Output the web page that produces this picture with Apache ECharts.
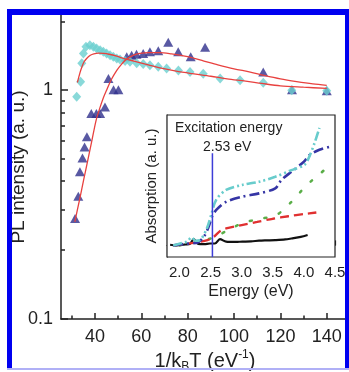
<!DOCTYPE html>
<html><head><meta charset="utf-8">
<script src="https://cdn.jsdelivr.net/npm/echarts@6/dist/echarts.min.js"></script>
<style>html,body{margin:0;padding:0;background:#fff}#c{width:349px;height:372px}</style>
</head><body><div id="c"></div>
<script>
// ---- main plot data ----
const cyanX = [32.1,33.8,34.3,35.0,36.1,37.8,39.3,40.7,42.2,43.6,45.0,46.5,47.9,49.4,50.8,53.0,55.1,58.0,60.8,63.7,67.3,70.9,76.0,81.0,86.7,94.0,102.6,112.6,124.9,140.0];
const cyanY = [0.935,1.087,1.31,1.447,1.546,1.57,1.546,1.52,1.495,1.47,1.447,1.42,1.398,1.375,1.36,1.34,1.33,1.31,1.3,1.285,1.264,1.244,1.22,1.2,1.18,1.125,1.105,1.076,1.0,0.993];
const navyX = [31.4,32.8,33.5,34.6,35.5,36.5,38.4,40.6,42.2,44.3,45.8,48.0,50.1,53.7,55.8,57.9,60.8,63.7,67.3,71.6,75.9,81.3,87.5,112.6,125.0,140.0];
const navyY = [0.275,0.344,0.44,0.505,0.565,0.625,0.79,0.79,0.79,0.845,1.125,1.005,1.005,1.4,1.42,1.435,1.447,1.47,1.485,1.62,1.47,1.4,1.54,1.2,1.005,0.995];
const fitAX = [32.4,33.5,34.3,35.3,36.4,38.0,39.5,41.5,43.6,46.0,49.4,53.0,58.0,63.0,68.0,75.0,82.0,90.0,97.0,105.0,112.0,120.0,130.0,140.0];
const fitAY = [1.08,1.19,1.26,1.33,1.375,1.42,1.44,1.45,1.447,1.435,1.407,1.37,1.33,1.29,1.25,1.21,1.18,1.15,1.12,1.095,1.07,1.045,1.03,1.017];
const fitBX = [31.3,33.3,35.1,36.9,38.7,40.5,42.0,43.5,45.0,47.0,49.4,51.5,53.7,56.5,59.4,63.0,68.0,73.0,80.0,87.0,93.0,100.0,107.0,113.0,120.0,127.0,134.0,140.0];
const fitBY = [0.266,0.331,0.405,0.495,0.605,0.74,0.83,0.92,1.0,1.11,1.22,1.3,1.37,1.42,1.447,1.46,1.46,1.44,1.4,1.34,1.29,1.24,1.2,1.16,1.12,1.09,1.065,1.05];
const xMajor = [40,60,80,100,120,140];
const xMinor = [30,50,70,90,110,130,150];
const yMajor = [0.1,1];
const yMinor = [0.2,0.3,0.4,0.5,0.6,0.7,0.8,0.9,2];

// ---- inset data ----
const blackE = [1.85,1.94,2.1,2.17,2.23,2.3,2.4,2.49,2.57,2.65,2.75,2.9,3.01,3.15,3.28,3.4,3.54,3.7,3.8,3.95,4.06];
const blackA = [0.02,0.0,0.03,0.05,0.2,0.05,0.04,0.06,0.06,0.2,0.12,0.11,0.12,0.13,0.15,0.16,0.17,0.19,0.22,0.27,0.33];
const redE = [1.9,2.1,2.3,2.45,2.55,2.65,2.75,3.0,3.25,3.5,3.75,4.0,4.2];
const redA = [0.0,0.05,0.1,0.17,0.27,0.45,0.54,0.65,0.75,0.85,0.93,1.0,1.05];
const greenE = [2.0,2.5,3.0,3.3,3.56,3.8,3.96,4.14,4.27,4.35];
const greenA = [0.0,0.22,0.7,0.85,0.97,1.39,1.74,2.09,2.3,2.45];
const navyE = [1.9,2.1,2.3,2.4,2.47,2.53,2.6,2.75,3.0,3.28,3.54,3.64,3.8,4.0,4.09,4.25,4.42];
const navyA = [0.0,0.05,0.1,0.3,0.6,0.95,1.15,1.39,1.55,1.66,1.82,2.09,2.35,2.67,2.88,3.05,3.15];
const cyanE = [1.9,2.05,2.12,2.2,2.25,2.33,2.44,2.51,2.59,2.75,3.01,3.28,3.54,3.8,4.01,4.08,4.17,4.25];
const cyanA = [0.0,0.08,0.12,0.26,0.15,0.17,0.54,0.97,1.45,1.77,1.93,2.03,2.19,2.4,2.57,2.8,3.26,3.75];
const excitationE = 2.53;
const excitationTop = 2.94;
const eMajor = [2.0,2.5,3.0,3.5,4.0,4.5];
const eMinor = [2.25,2.75,3.25,3.75,4.25];
const absTicks = [0,1,2,3,4];

const zip = (a,b) => a.map((v,i)=>[v,b[i]]);
const FF = 'Liberation Sans, Arial, sans-serif';
const TC = '#222';
const AXMIN = 25.33, AXMAX = 149.6, AYMIN = 0.1, AYMAX = 2.13;
const IXMIN = 1.8, IXMAX = 4.5, IYMIN = -0.37, IYMAX = 4.16;

const chart = echarts.init(document.getElementById('c'), null, {renderer:'canvas'});
chart.setOption({
  animation:false,
  backgroundColor:'#fff',
  textStyle:{fontFamily:FF},
  grid:[
    {left:61, top:15, right:0, bottom:53, outerBoundsMode:'none', containLabel:false},
    {left:167, top:115, width:168, height:142, outerBoundsMode:'none', containLabel:false,
     show:true, backgroundColor:'#fff', borderColor:TC, borderWidth:1.2, z:3}
  ],
  xAxis:[
    {type:'value', gridIndex:0, min:AXMIN, max:AXMAX,
     axisLine:{show:true, lineStyle:{color:TC, width:1.5}},
     axisTick:{show:true, inside:true, length:6, customValues:xMajor, lineStyle:{color:TC, width:1.5}},
     axisLabel:{customValues:xMajor, fontSize:18, margin:9, color:TC, fontFamily:FF},
     splitLine:{show:false},
     name:'1/k{sub|B}T (eV{sup|-1})', nameLocation:'middle', nameGap:30, nameMoveOverlap:false,
     nameTextStyle:{fontSize:20, color:TC, fontFamily:FF, lineHeight:24,
       rich:{sub:{fontSize:12, verticalAlign:'bottom', lineHeight:18, color:TC, fontFamily:FF},
             sup:{fontSize:12, verticalAlign:'top', lineHeight:14, color:TC, fontFamily:FF}}}},
    {type:'value', gridIndex:0, min:AXMIN, max:AXMAX, position:'bottom',
     axisLine:{show:false},
     axisTick:{show:true, inside:true, length:3.5, customValues:xMinor, lineStyle:{color:TC, width:1.5}},
     axisLabel:{show:false}, splitLine:{show:false}},
    {type:'value', gridIndex:1, min:IXMIN, max:IXMAX,
     axisLine:{show:true, lineStyle:{color:TC, width:1.2}},
     axisTick:{show:true, inside:true, length:5, customValues:eMajor, lineStyle:{color:TC, width:1.2}},
     axisLabel:{customValues:eMajor, fontSize:15, margin:8, color:TC, fontFamily:FF, formatter:v=>v.toFixed(1)},
     splitLine:{show:false},
     name:'Energy (eV)', nameLocation:'middle', nameGap:27, nameMoveOverlap:false,
     nameTextStyle:{fontSize:16, color:TC, fontFamily:FF}},
    {type:'value', gridIndex:1, min:IXMIN, max:IXMAX, position:'bottom',
     axisLine:{show:false},
     axisTick:{show:true, inside:true, length:3, customValues:eMinor, lineStyle:{color:TC, width:1.2}},
     axisLabel:{show:false}, splitLine:{show:false}}
  ],
  yAxis:[
    {type:'log', logBase:10, gridIndex:0, min:AYMIN, max:AYMAX,
     axisLine:{show:true, lineStyle:{color:TC, width:1.5}},
     axisTick:{show:true, inside:true, length:7, customValues:yMajor, lineStyle:{color:TC, width:1.5}},
     axisLabel:{customValues:yMajor, fontSize:18, margin:8, color:TC, fontFamily:FF, formatter:v=>String(v)},
     splitLine:{show:false}, minorTick:{show:false},
     name:'PL intensity (a. u.)', nameLocation:'middle', nameGap:33, nameRotate:90, nameMoveOverlap:false,
     nameTextStyle:{fontSize:19, color:TC, fontFamily:FF}},
    {type:'log', logBase:10, gridIndex:0, min:AYMIN, max:AYMAX, position:'left',
     axisLine:{show:false},
     axisTick:{show:true, inside:true, length:4, customValues:yMinor, lineStyle:{color:TC, width:1.5}},
     axisLabel:{show:false}, splitLine:{show:false}},
    {type:'value', gridIndex:1, min:IYMIN, max:IYMAX,
     axisLine:{show:true, lineStyle:{color:TC, width:1.2}},
     axisTick:{show:true, inside:true, length:5, customValues:absTicks, lineStyle:{color:TC, width:1.2}},
     axisLabel:{show:false}, splitLine:{show:false},
     name:'Absorption (a. u.)', nameLocation:'middle', nameGap:8, nameRotate:90, nameMoveOverlap:false,
     nameTextStyle:{fontSize:15, color:TC, fontFamily:FF}}
  ],
  series:[
    {type:'scatter', xAxisIndex:0, yAxisIndex:0, data:zip(navyX,navyY), symbol:'triangle', symbolSize:[10,9],
     itemStyle:{color:'#2f2f8c'}, z:2},
    {type:'scatter', xAxisIndex:0, yAxisIndex:0, data:zip(cyanX,cyanY), symbol:'diamond', symbolSize:[9,10],
     itemStyle:{color:'#6ccfcf'}, z:3},
    {type:'line', xAxisIndex:0, yAxisIndex:0, data:zip(fitAX,fitAY), smooth:0.3, showSymbol:false,
     lineStyle:{color:'#e8413f', width:1.3}, z:4},
    {type:'line', xAxisIndex:0, yAxisIndex:0, data:zip(fitBX,fitBY), smooth:0.3, showSymbol:false,
     lineStyle:{color:'#e8413f', width:1.3}, z:4},
    // inset
    {type:'line', xAxisIndex:2, yAxisIndex:2, data:zip(blackE,blackA), smooth:0.3, showSymbol:false,
     lineStyle:{color:'#111', width:2.2}, z:5},
    {type:'line', xAxisIndex:2, yAxisIndex:2, data:zip(greenE,greenA), smooth:0.3, showSymbol:false,
     lineStyle:{color:'#5aae48', width:2.5, type:[2,13], cap:'round'}, z:5},
    {type:'line', xAxisIndex:2, yAxisIndex:2, data:zip(redE,redA), smooth:0.3, showSymbol:false,
     lineStyle:{color:'#e03030', width:2.3, type:[9,5]}, z:5},
    {type:'line', xAxisIndex:2, yAxisIndex:2, data:zip(navyE,navyA), smooth:0.3, showSymbol:false,
     lineStyle:{color:'#3535a5', width:2.6, type:[10,4,2,4]}, z:5},
    {type:'line', xAxisIndex:2, yAxisIndex:2, data:zip(cyanE,cyanA), smooth:0.3, showSymbol:false,
     lineStyle:{color:'#68cccc', width:2.6, type:[9,3,2,3,2,3]}, z:5},
    {type:'line', xAxisIndex:2, yAxisIndex:2, data:[[excitationE,IYMIN],[excitationE,excitationTop]], showSymbol:false,
     lineStyle:{color:'#3d3dd8', width:1.5}, z:6}
  ],
  graphic:[
    {type:'text', left:175, top:121, z:10, style:{text:'Excitation energy', fontSize:14, fill:TC, fontFamily:FF}},
    {type:'text', left:203, top:140, z:10, style:{text:'2.53 eV', fontSize:14, fill:TC, fontFamily:FF}},
    {type:'rect', z:20, shape:{x:7, y:9, width:5, height:361}, style:{fill:'#0000f0'}},
    {type:'rect', z:20, shape:{x:7, y:9, width:342, height:6}, style:{fill:'#0000f0'}},
    {type:'rect', z:20, shape:{x:345, y:9, width:4, height:361}, style:{fill:'#0000f0'}},
    {type:'rect', z:20, shape:{x:7, y:368, width:342, height:2}, style:{fill:'#b0b0f6'}}
  ]
});
</script>
</body></html>
